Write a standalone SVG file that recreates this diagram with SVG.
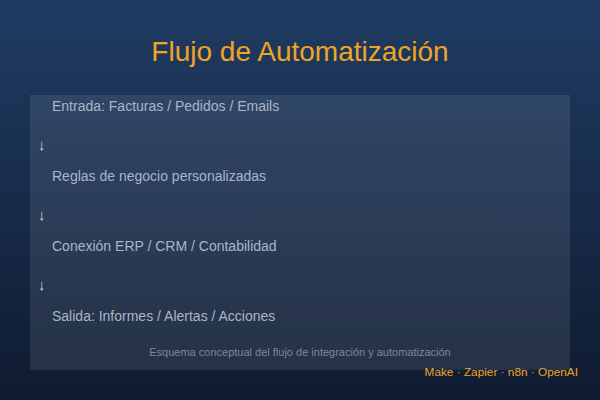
<svg xmlns="http://www.w3.org/2000/svg" width="600" height="400" viewBox="0 0 600 400">
<defs>
<linearGradient id="bg" x1="0" y1="0" x2="0" y2="1">
<stop offset="0" stop-color="#203c63"/>
<stop offset="1" stop-color="#0f1b30"/>
</linearGradient>
<style>
.t{font-family:"Liberation Sans",Arial,sans-serif}
.step{font-size:14px;fill:#aab6c8}
.arr{font-size:15px;fill:#d0d8e4}
</style>
</defs>
<rect width="600" height="400" fill="url(#bg)"/>
<text class="t" x="300" y="61" text-anchor="middle" font-size="28" fill="#f0a424">Flujo de Automatización</text>
<rect x="30" y="95" width="540" height="275" fill="#ffffff" fill-opacity="0.09"/>
<g id="n1"><text class="t step" x="52" y="111">Entrada: Facturas / Pedidos / Emails</text></g>
<g id="n2"><text class="t step" x="52" y="181">Reglas de negocio personalizadas</text></g>
<g id="n3"><text class="t step" x="52" y="251">Conexión ERP / CRM / Contabilidad</text></g>
<g id="n4"><text class="t step" x="52" y="321">Salida: Informes / Alertas / Acciones</text></g>
<g id="connectors">
<text class="t arr" x="38" y="150">↓</text>
<text class="t arr" x="38" y="220">↓</text>
<text class="t arr" x="38" y="290">↓</text>
</g>
<text class="t" x="300" y="356" text-anchor="middle" font-size="11" fill="#7d889a">Esquema conceptual del flujo de integración y automatización</text>
<text class="t" x="578" y="376" text-anchor="end" font-size="11.8" fill="#f0a424">Make · Zapier · n8n · OpenAI</text>
</svg>
